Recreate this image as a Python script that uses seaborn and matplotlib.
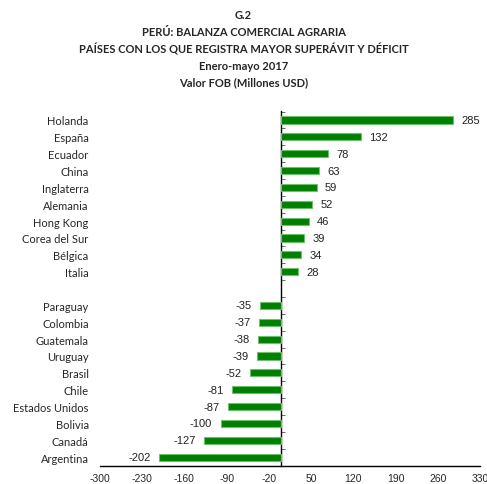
import pandas as pd
import seaborn as sns
import matplotlib.pyplot as plt

# data (Enero-mayo 2017, millones USD)
superavit_paises = ["Holanda", "España", "Ecuador", "China", "Inglaterra",
                    "Alemania", "Hong Kong", "Corea del Sur", "Bélgica", "Italia"]
superavit_valores = [285, 132, 78, 63, 59, 52, 46, 39, 34, 28]

deficit_paises = ["Paraguay", "Colombia", "Guatemala", "Uruguay", "Brasil",
                  "Chile", "Estados Unidos", "Bolivia", "Canadá", "Argentina"]
deficit_valores = [-35, -37, -38, -39, -52, -81, -87, -100, -127, -202]

x_ticks = [-300, -230, -160, -90, -20, 50, 120, 190, 260, 330]

titulo = ("G.2\nPERÚ: BALANZA COMERCIAL AGRARIA\n"
          "PAÍSES CON LOS QUE REGISTRA MAYOR SUPERÁVIT Y DÉFICIT\n"
          "Enero-mayo 2017\nValor FOB (Millones USD)")

df = pd.DataFrame({
    "pais": superavit_paises + deficit_paises,
    "valor": superavit_valores + deficit_valores,
})
orden = superavit_paises + [" "] + deficit_paises

sns.set_style("white")
plt.rcParams["font.family"] = ["Lato", "DejaVu Sans"]

fig = plt.figure(figsize=(4.87, 4.85), dpi=100)
ax = fig.add_axes([0.205, 0.037, 0.781, 0.732])

sns.barplot(data=df, x="valor", y="pais", order=orden, orient="h",
            color="#008000", saturation=1, width=0.42,
            edgecolor="#6fbf6f", linewidth=0.8, ax=ax)

for cont in ax.containers:
    ax.bar_label(cont, fmt="%d", padding=6, fontsize=8,
                 family="Liberation Sans", color="#222222")

ax.set_xlim(-300, 330)
ax.set_ylim(20.53, -0.53)
ax.set_xticks(x_ticks)
ax.set_xticklabels([str(t) for t in x_ticks], family="Liberation Sans",
                   fontsize=7.5)
ax.tick_params(axis="x", length=0, pad=5)
ax.tick_params(axis="y", length=0, pad=8, labelsize=8)
ax.set_xlabel("")
ax.set_ylabel("")

for s in ["top", "right", "left"]:
    ax.spines[s].set_visible(False)
ax.spines["bottom"].set_color("black")
ax.spines["bottom"].set_linewidth(1.0)

# category axis crossing at zero
sec = ax.secondary_yaxis(300 / 630)
sec.set_yticks([i + 0.5 for i in range(-1, 21)])
sec.set_yticklabels([])
sec.tick_params(direction="in", length=3, width=0.6, color="#555555")
sec.spines["left"].set_color("black")
sec.spines["left"].set_linewidth(1.0)

fig.text(0.5, 0.979, titulo, ha="center", va="top", fontsize=8,
         fontweight="bold", linespacing=1.6)

plt.savefig("out.png", dpi=100)
plt.close()
